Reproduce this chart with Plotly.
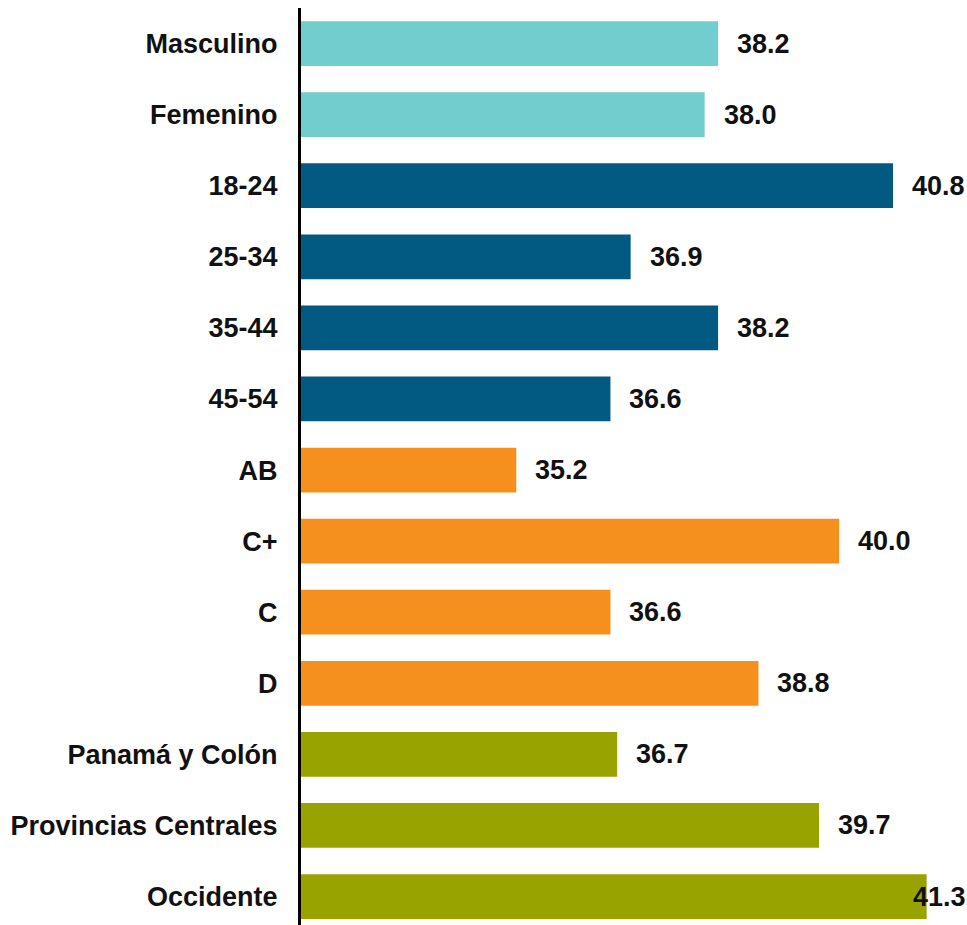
import plotly.graph_objects as go

categorias = ['Masculino', 'Femenino', '18-24', '25-34', '35-44', '45-54',
              'AB', 'C+', 'C', 'D', 'Panamá y Colón', 'Provincias Centrales', 'Occidente']
valores = [38.2, 38.0, 40.8, 36.9, 38.2, 36.6, 35.2, 40.0, 36.6, 38.8, 36.7, 39.7, 41.3]
grupos = ['genero'] * 2 + ['edad'] * 4 + ['nse'] * 4 + ['region'] * 3

colores_grupo = {'genero': '#72CDCE', 'edad': '#025A82', 'nse': '#F5901F', 'region': '#99A300'}
colores = [colores_grupo[g] for g in grupos]

fuente = dict(family='Liberation Sans, Arial, sans-serif', size=27, color='#111111')

fig = go.Figure(go.Bar(
    x=valores,
    y=categorias,
    orientation='h',
    marker=dict(color=colores, line=dict(width=0)),
    width=0.63,
    hoverinfo='x+y',
))

# etiquetas de valor (la última queda dentro, como en el original)
for i, (cat, val) in enumerate(zip(categorias, valores)):
    ultima = i == len(valores) - 1
    fig.add_annotation(
        x=val, y=cat, text=f'<b>{val:.1f}</b>', showarrow=False,
        xanchor='left', yanchor='middle', xshift=-16 if ultima else 17,
        font=fuente,
    )

fig.update_layout(
    width=967, height=925,
    margin=dict(l=301, r=0, t=8, b=0),
    plot_bgcolor='white', paper_bgcolor='white',
    showlegend=False,
)
fig.update_xaxes(range=[32, 41.9], visible=False, showgrid=False, zeroline=False)
fig.update_yaxes(
    range=[12.4, -0.5], autorange=False,
    showline=True, linecolor='black', linewidth=3,
    showgrid=False, zeroline=False, ticks='',
    tickfont=fuente, ticklabelstandoff=15,
    tickvals=categorias, ticktext=[f'<b>{c}</b>' for c in categorias],
)

# quitar el margen por defecto del body para que la figura ocupe toda la ventana
fig.write_html(
    'out.html',
    config={'displayModeBar': False},
    post_script="document.body.style.margin='0';document.body.style.overflow='hidden';",
)
